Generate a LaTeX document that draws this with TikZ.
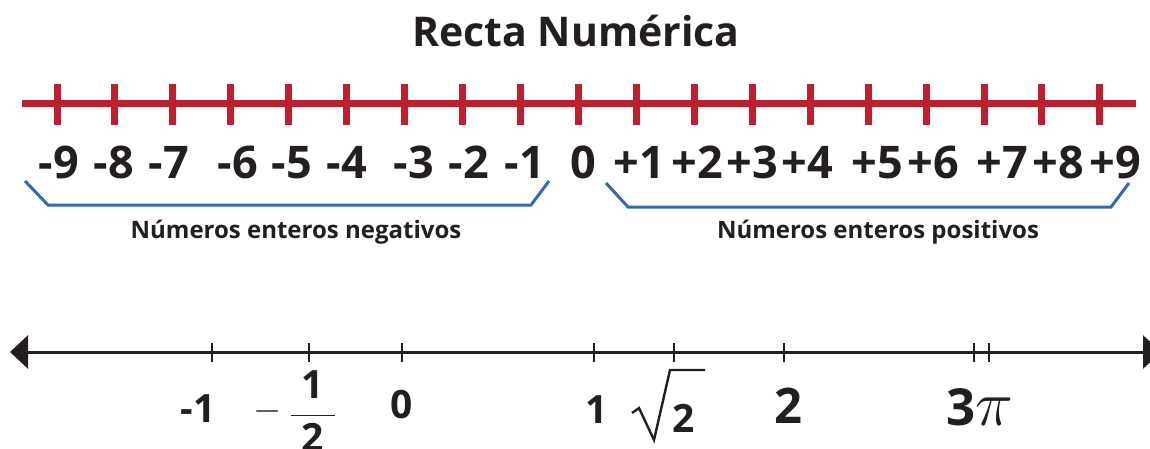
\RequirePackage{fix-cm}
\documentclass[tikz,border=0pt]{standalone}
\usepackage{fontspec}
\setmainfont{Open Sans}
\usepackage{amsmath}
\definecolor{linered}{HTML}{BE1E2D}
\definecolor{braceblue}{HTML}{2F6AB4}
\definecolor{inkblack}{HTML}{231F20}
\usetikzlibrary{arrows.meta,positioning}

\begin{document}
\begin{tikzpicture}[x=1pt, y=-1pt,
    title/.style={anchor=base, inner sep=0pt, font=\fontsize{41}{41}\selectfont\bfseries, text=inkblack},
    numlbl/.style={anchor=base, inner sep=0pt, font=\fontsize{45}{45}\selectfont\bfseries, text=inkblack},
    grouplbl/.style={anchor=base, inner sep=0pt, font=\fontsize{24}{24}\selectfont\bfseries, text=inkblack},
    reallbl/.style={anchor=base, inner sep=0pt, font=\fontsize{39}{39}\selectfont\bfseries, text=inkblack},
    redline/.style={line width=7pt, linered},
    bracket/.style={line width=3pt, braceblue},
    axis/.style={line width=3pt, inkblack, {Triangle[length=18pt,width=33pt]}-{Triangle[length=18pt,width=33pt]}},
    tickmark/.style={line width=2.5pt, inkblack},
    radical/.style={line width=2.4pt, inkblack, line join=miter}
  ]
    \useasboundingbox (0,0) rectangle (1150,448);

    \node[title] (title) at (576,46) {Recta Numérica};

    % integer line
    \coordinate (rstart) at (22,103);
    \coordinate (rend) at (1136,103);
    \draw[redline] (rstart) -- (rend);
    \foreach \i in {0,...,18}
      \draw[redline] (57+57.94*\i,84) -- (57+57.94*\i,125);
    \foreach \x/\lab [count=\i] in {59/-9, 114/-8, 169/-7, 238/-6, 292/-5, 347/-4, 414/-3, 469/-2, 525/-1, 583/0,
        639/+1, 697/+2, 752/+3, 807/+4, 877/+5, 933/+6, 1002/+7, 1058/+8, 1115/+9}
      \node[numlbl] (num\i) at (\x,178) {\lab};

    % groups
    \draw[bracket] (25,181) -- (48,205) -- (531,205) -- (549,181);
    \draw[bracket] (606,183) -- (628,207) -- (1111,207) -- (1129,183);
    \node[grouplbl] (neg) at (296,238) {Números enteros negativos};
    \node[grouplbl] (pos) at (878,238) {Números enteros positivos};

    % real line
    \coordinate (aleft) at (10,352);
    \coordinate (aright) at (1161,352);
    \draw[axis] (aleft) -- (aright);
    \foreach \x in {212,309,402,594,674,784,974,989}
      \draw[tickmark] (\x,343) -- (\x,362);
    \node[reallbl] (mone) at (198,422) {-1};
    \node[reallbl] (mhalf) at (295,425) {\raisebox{5pt}{\fontsize{36}{36}\selectfont$-$}\hspace{8pt}$\displaystyle
      \frac{\hspace{11pt}\text{\bfseries 1}\hspace{11pt}}{\text{\bfseries 2}}$};
    \node[reallbl] (zero) at (402,418) {0};
    \node[reallbl] (one) at (597,423) {1};
    \node[reallbl] (rtwo) at (684,432) {2};
    \draw[radical] (632,413) -- (639,408) -- (654,440) -- (670,370) -- (705,370);
    \node[reallbl, font=\fontsize{49}{49}\selectfont\bfseries] (two) at (788,423) {2};
    \node[reallbl, font=\fontsize{51}{51}\selectfont\bfseries] (pi) at (980,425) {3{\fontsize{64}{64}\selectfont$\pi$}};
  \end{tikzpicture}
\end{document}
